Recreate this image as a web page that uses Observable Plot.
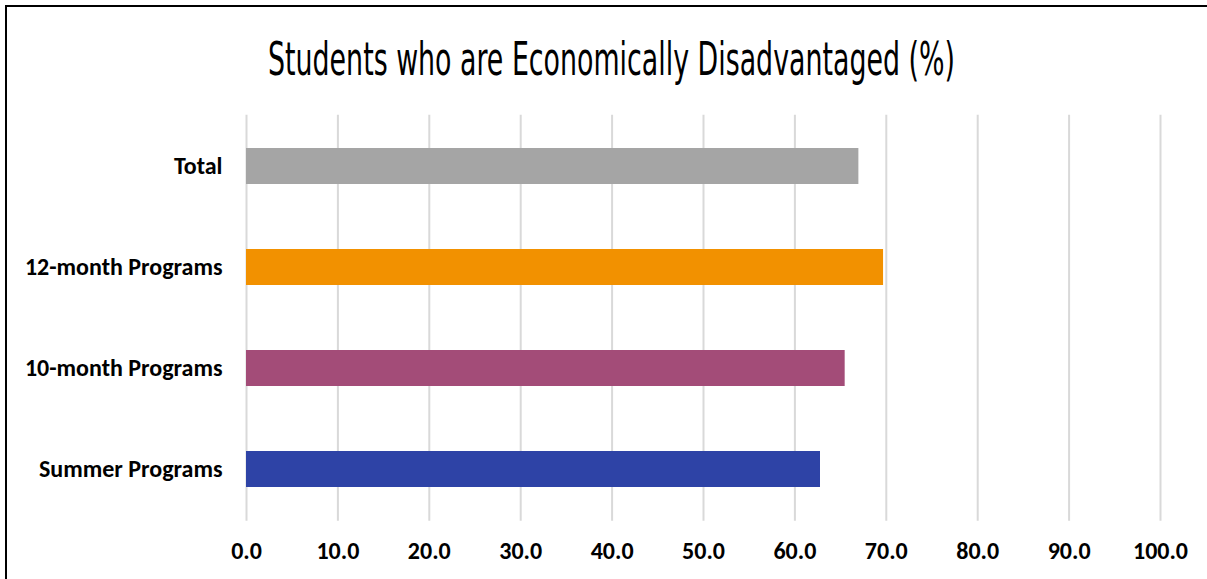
<!DOCTYPE html>
<html>
<head>
<meta charset="utf-8">
<script src="https://cdn.jsdelivr.net/npm/d3@7"></script>
<script src="https://cdn.jsdelivr.net/npm/@observablehq/plot@0.6"></script>
<style>
  html, body { margin: 0; padding: 0; background: #fff; overflow: hidden; }
  #wrap { position: relative; width: 1207px; height: 579px; }
  #frame { position: absolute; left: 5px; top: 5px; width: 1300px; height: 700px; z-index: 5;
           border-left: 2px solid #000; border-top: 2px solid #000; box-sizing: border-box; pointer-events: none; }
  #title { position: absolute; left: 0; top: 0; width: 1207px; height: 105px; }
  #title span { position: absolute; white-space: nowrap;
                font-family: "Liberation Sans Narrow", "DejaVu Sans Condensed", sans-serif;
                font-size: 46px; color: #000; line-height: 1; transform-origin: 0 0; }
  #chart { position: absolute; left: 0; top: 105px; }
</style>
</head>
<body>
<div id="wrap">
  <div id="title"><span id="tt">Students who are Economically Disadvantaged (%)</span></div>
  <div id="chart"></div>
  <div id="frame"></div>
</div>
<script>
const categories = ["Total", "12-month Programs", "10-month Programs", "Summer Programs"];
const values = [67.0, 69.7, 65.5, 62.8];
const xTicks = [0, 10, 20, 30, 40, 50, 60, 70, 80, 90, 100];

const data = categories.map((c, i) => ({category: c, value: values[i]}));

const font = "Carlito, Calibri, 'Open Sans', sans-serif";

const chart = Plot.plot({
  width: 1207,
  height: 474,
  marginLeft: 246,
  marginRight: 47,
  marginTop: 9.75,
  marginBottom: 58.25,
  style: {fontFamily: font, fontSize: "24px", fontWeight: "bold", color: "#000", background: "transparent"},
  x: {domain: [0, 100], label: null},
  y: {domain: categories, label: null, paddingInner: 0.645, paddingOuter: 0.3225},
  color: {domain: categories, range: ["#A5A5A5", "#F29100", "#A34C78", "#2E43A6"]},
  marks: [
    Plot.gridX(xTicks, {stroke: "#d9d9d9", strokeOpacity: 1, strokeWidth: 2}),
    Plot.barX(data, {x: "value", y: "category", fill: "category"}),
    Plot.axisX(xTicks, {tickSize: 0, tickPadding: 21, tickFormat: d3.format(".1f"), label: null, fill: "#000"}),
    Plot.axisY({tickSize: 0, tickPadding: 24, label: null, fill: "#000"})
  ]
});
document.getElementById("chart").appendChild(chart);

// fit the title to the reference width and position
const tt = document.getElementById("tt");
const r = tt.getBoundingClientRect();
const targetW = 687, left = 268, capTop = 42;
const s = targetW / r.width;
tt.style.left = left + "px";
tt.style.top = (capTop - 46 * 0.12) + "px";
tt.style.transform = `scaleX(${s})`;
</script>
</body>
</html>
